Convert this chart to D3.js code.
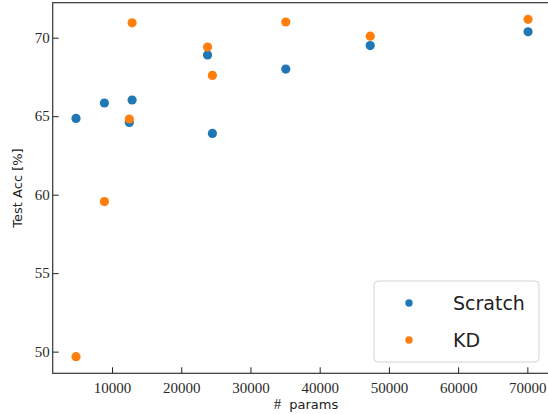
<!DOCTYPE html>
<html>
<head>
<meta charset="utf-8">
<script src="https://cdn.jsdelivr.net/npm/d3@7"></script>
<style>
  html, body { margin: 0; padding: 0; background: #fff; }
  svg { display: block; }
  .serif { font-family: "Liberation Serif", "DejaVu Serif", serif; }
  .sans { font-family: "DejaVu Sans", sans-serif; }
</style>
</head>
<body>
<svg id="chart" width="548" height="414"></svg>
<script>
// Model size (number of parameters) for each network
const params = [4800, 8900, 12500, 12900, 23800, 24500, 35100, 47300, 70100];
// Test accuracy (%) trained from scratch
const scratchAcc = [64.86, 65.84, 64.6, 66.03, 68.9, 63.9, 68.0, 69.5, 70.38];
// Test accuracy (%) with knowledge distillation
const kdAcc = [49.68, 59.56, 64.82, 70.95, 69.4, 67.6, 71.0, 70.1, 71.17];

const xTicks = [10000, 20000, 30000, 40000, 50000, 60000, 70000];
const yTicks = [50, 55, 60, 65, 70];
const seriesNames = ["Scratch", "KD"];
const seriesColors = ["#1f77b4", "#ff7f0e"];

const svg = d3.select("#chart");
const plotLeft = 52.7, plotRight = 552, plotTop = 2.7, plotBottom = 373.3;

const x = d3.scaleLinear().domain([1430, 73560]).range([plotLeft, plotRight]);
const y = d3.scaleLinear().domain([48.62, 72.23]).range([plotBottom, plotTop]);

// Axes with inward ticks
const xAxis = d3.axisBottom(x).tickValues(xTicks).tickSize(-6).tickPadding(9)
  .tickFormat(d3.format("d"));
const yAxis = d3.axisLeft(y).tickValues(yTicks).tickSize(-6).tickPadding(10)
  .tickFormat(d3.format("d"));

const gx = svg.append("g").attr("transform", `translate(0,${plotBottom})`).call(xAxis);
const gy = svg.append("g").attr("transform", `translate(${plotLeft},0)`).call(yAxis);

[gx, gy].forEach(g => {
  g.attr("font-family", null).attr("font-size", null);
  g.select(".domain").remove();
  g.selectAll(".tick line").attr("stroke", "#222").attr("stroke-width", 1);
  g.selectAll(".tick text")
    .attr("class", "serif")
    .style("font-size", "15px")
    .attr("fill", "#2a2a2a");
});
gy.selectAll(".tick text").attr("x", -3);

// Frame
svg.append("rect")
  .attr("x", plotLeft).attr("y", plotTop)
  .attr("width", plotRight - plotLeft).attr("height", plotBottom - plotTop)
  .attr("fill", "none").attr("stroke", "#333").attr("stroke-width", 1.2);

// Points
const series = [scratchAcc, kdAcc];
series.forEach((vals, si) => {
  svg.append("g").selectAll("circle")
    .data(params.map((p, i) => [p, vals[i]]))
    .join("circle")
    .attr("cx", d => x(d[0]))
    .attr("cy", d => y(d[1]))
    .attr("r", 4.6)
    .attr("fill", seriesColors[si]);
});

// Axis labels
svg.append("text")
  .attr("class", "sans")
  .attr("transform", `translate(22,188) rotate(-90)`)
  .attr("text-anchor", "middle")
  .style("font-size", "13px").attr("fill", "#222")
  .text("Test Acc [%]");

const xl = svg.append("text")
  .attr("x", 306).attr("y", 409)
  .attr("text-anchor", "middle")
  .attr("fill", "#222");
xl.append("tspan").attr("class", "serif").style("font-size", "15px").text("#");
xl.append("tspan").attr("class", "sans").style("font-size", "13px").attr("dx", 8).text("params");

// Legend
const lg = svg.append("g");
lg.append("rect")
  .attr("x", 374).attr("y", 281).attr("width", 165).attr("height", 81)
  .attr("rx", 4).attr("fill", "#fff").attr("fill-opacity", 0.8)
  .attr("stroke", "#d4d4d4").attr("stroke-width", 1);
seriesNames.forEach((name, i) => {
  const cy = 303 + i * 37;
  lg.append("circle").attr("cx", 409).attr("cy", cy).attr("r", 3.7)
    .attr("fill", seriesColors[i]);
  lg.append("text").attr("class", "sans").attr("x", 453).attr("y", cy + 6.5)
    .style("font-size", "19px").attr("fill", "#222")
    .text(name);
});
</script>
</body>
</html>
